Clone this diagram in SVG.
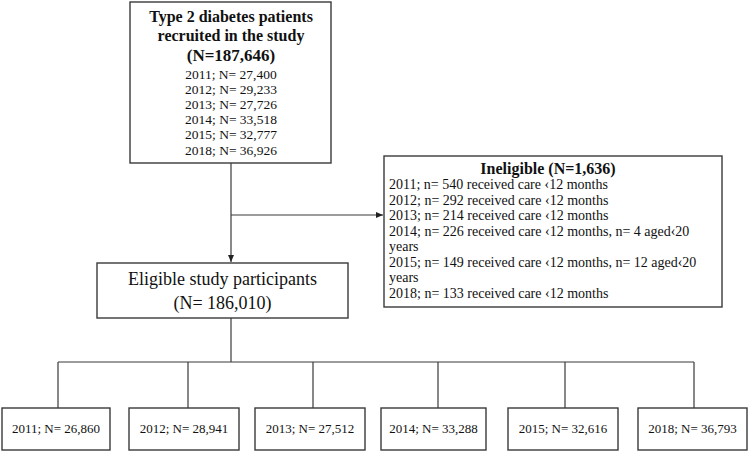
<svg xmlns="http://www.w3.org/2000/svg" width="749" height="453" viewBox="0 0 749 453">
<style>
.box{fill:#fff;stroke:#3a3a3a;stroke-width:1.4}
.ln{fill:none;stroke:#3a3a3a;stroke-width:1.2}
text{font-family:"Liberation Serif","Times New Roman",serif;fill:#111}
.t{font-size:16px;font-weight:bold;text-anchor:middle}
.tn{font-size:17px;font-weight:bold;text-anchor:middle}
.s{font-size:13.5px;text-anchor:middle}
.l{font-size:14px}
.e{font-size:18px;text-anchor:middle}
.b{font-size:13px;text-anchor:middle}
</style>
<defs>
<marker id="ah" markerWidth="7" markerHeight="6" refX="7" refY="3" orient="auto" markerUnits="userSpaceOnUse">
<path d="M0,0 L7,3 L0,6 Z" fill="#222"/>
</marker>
</defs>
<rect width="749" height="453" fill="#fff"/>
<g id="connectors">
<path class="ln" d="M231,163 V262" marker-end="url(#ah)"/>
<path class="ln" d="M231,215 H383" marker-end="url(#ah)"/>
<path class="ln" d="M231,318 V362"/>
<path class="ln" d="M58,362 H694"/>
<path class="ln" d="M58,362 V408 M188,362 V408 M313,362 V408 M438,362 V408 M565,362 V408 M694,362 V408"/>
</g>
<g id="recruited">
<rect class="box" x="130" y="2" width="201" height="161"/>
<text class="t" x="231" y="22">Type 2 diabetes patients</text>
<text class="t" x="231" y="41">recruited in the study</text>
<text class="tn" x="231" y="61">(N=187,646)</text>
<text class="s" x="231" y="79">2011; N= 27,400</text>
<text class="s" x="231" y="94">2012; N= 29,233</text>
<text class="s" x="231" y="109">2013; N= 27,726</text>
<text class="s" x="231" y="124">2014; N= 33,518</text>
<text class="s" x="231" y="139">2015; N= 32,777</text>
<text class="s" x="231" y="155">2018; N= 36,926</text>
</g>
<g id="ineligible">
<rect class="box" x="384" y="156" width="338" height="151"/>
<text class="t" x="548" y="174">Ineligible (N=1,636)</text>
<text class="l" x="389" y="189">2011; n= 540 received care ‹12 months</text>
<text class="l" x="389" y="204.5">2012; n= 292 received care ‹12 months</text>
<text class="l" x="389" y="220">2013; n= 214 received care ‹12 months</text>
<text class="l" x="389" y="235.5">2014; n= 226 received care ‹12 months, n= 4 aged‹20</text>
<text class="l" x="389" y="251">years</text>
<text class="l" x="389" y="266.5">2015; n= 149 received care ‹12 months, n= 12 aged‹20</text>
<text class="l" x="389" y="282">years</text>
<text class="l" x="389" y="297.5">2018; n= 133 received care ‹12 months</text>
</g>
<g id="eligible">
<rect class="box" x="97" y="263" width="251" height="55"/>
<text class="e" x="222.5" y="285">Eligible study participants</text>
<text class="e" x="222.5" y="309">(N= 186,010)</text>
</g>
<g id="y2011"><rect class="box" x="2" y="408" width="108" height="42"/><text class="b" x="56" y="433">2011; N= 26,860</text></g>
<g id="y2012"><rect class="box" x="129" y="408" width="110" height="42"/><text class="b" x="184" y="433">2012; N= 28,941</text></g>
<g id="y2013"><rect class="box" x="255" y="408" width="110" height="42"/><text class="b" x="310" y="433">2013; N= 27,512</text></g>
<g id="y2014"><rect class="box" x="381" y="408" width="105" height="42"/><text class="b" x="433.5" y="433">2014; N= 33,288</text></g>
<g id="y2015"><rect class="box" x="508" y="408" width="110" height="42"/><text class="b" x="563" y="433">2015; N= 32,616</text></g>
<g id="y2018"><rect class="box" x="638" y="408" width="109" height="42"/><text class="b" x="692.5" y="433">2018; N= 36,793</text></g>
</svg>
